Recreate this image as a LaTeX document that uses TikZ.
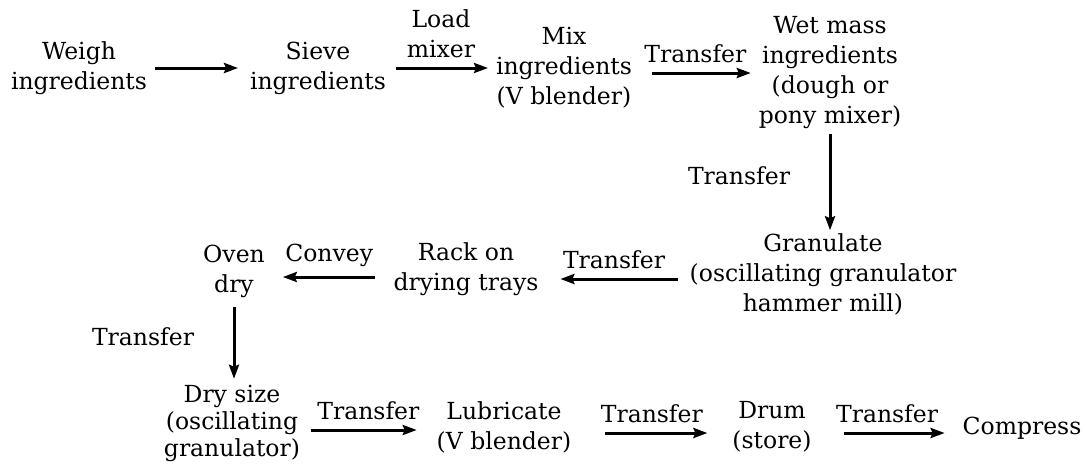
\documentclass[tikz,border=0pt]{standalone}
\usepackage{fontspec}
\setmainfont{DejaVu Serif}
\usetikzlibrary{arrows.meta}
\begin{document}
\begin{tikzpicture}[x=1pt,y=-1pt,
  every node/.style={inner sep=0pt,outer sep=0pt,align=center,font=\fontsize{23.5}{30}\selectfont},
  arr/.style={line width=3pt,-{Stealth[length=14pt,width=10pt,inset=2pt]}},
  lab/.style={midway,above=10pt},
  vlab/.style={pos=0.45,left=40pt}]
\useasboundingbox (0,0) rectangle (1086,467);
\fill[white] (0,0) rectangle (1086,467);
% row 1
\node (weigh) at (79,68) {Weigh\\ingredients};
\node (sieve) at (318,68) {Sieve\\ingredients};
\node (mix) at (564,68) {Mix\\ingredients\\(V blender)};
\node (wet) at (830,73) {Wet mass\\ingredients\\(dough or\\pony mixer)};
% row 2
\node (gran) at (823,274) {Granulate\\(oscillating granulator\\hammer mill)};
\node (rack) at (466,269) {Rack on\\drying trays};
\node (oven) at (234,271) {Oven\\dry};
% row 3
\node (dry) at (232,423) [font=\fontsize{23.5}{27}\selectfont] {Dry size\\(oscillating\\granulator)};
\node (lube) at (504,427) {Lubricate\\(V blender)};
\node (drum) at (772,427) {Drum\\(store)};
\node (comp) at (1022,428) {Compress};
% connectors
\draw[arr,shorten <=8pt,shorten >=12pt] (weigh.east) -- (weigh.east -| sieve.west);
\draw[arr,shorten <=10pt,shorten >=8pt] (sieve.east) -- (sieve.east -| mix.west)
  node[lab] {Load\\mixer};
\draw[arr,shorten <=20pt,shorten >=8pt] ([yshift=-5pt]mix.east) -- ([yshift=-5pt]mix.east -| wet.west)
  node[lab] {Transfer};
\draw[arr,shorten <=5pt,shorten >=3pt] (wet.south) -- (wet.south |- gran.north)
  node[vlab] {Transfer};
\draw[arr,shorten <=12pt,shorten >=22pt] ([yshift=-5pt]gran.west) -- ([yshift=-5pt]gran.west -| rack.east)
  node[lab] {Transfer};
\draw[arr,shorten <=19pt,shorten >=18pt] ([yshift=-8pt]rack.west) -- ([yshift=-8pt]rack.west -| oven.east)
  node[lab] {Convey};
\draw[arr,shorten <=10pt,shorten >=6pt] (oven.south) -- (oven.south |- dry.north)
  node[vlab] {Transfer};
\draw[arr,shorten <=11pt,shorten >=20pt] ([yshift=-7pt]dry.east) -- ([yshift=-7pt]dry.east -| lube.west)
  node[lab] {Transfer};
\draw[arr,shorten <=34pt,shorten >=25pt] ([yshift=-6pt]lube.east) -- ([yshift=-6pt]lube.east -| drum.west)
  node[lab] {Transfer};
\draw[arr,shorten <=32pt,shorten >=18pt] ([yshift=-6pt]drum.east) -- ([yshift=-6pt]drum.east -| comp.west)
  node[lab] {Transfer};
\end{tikzpicture}
\end{document}
